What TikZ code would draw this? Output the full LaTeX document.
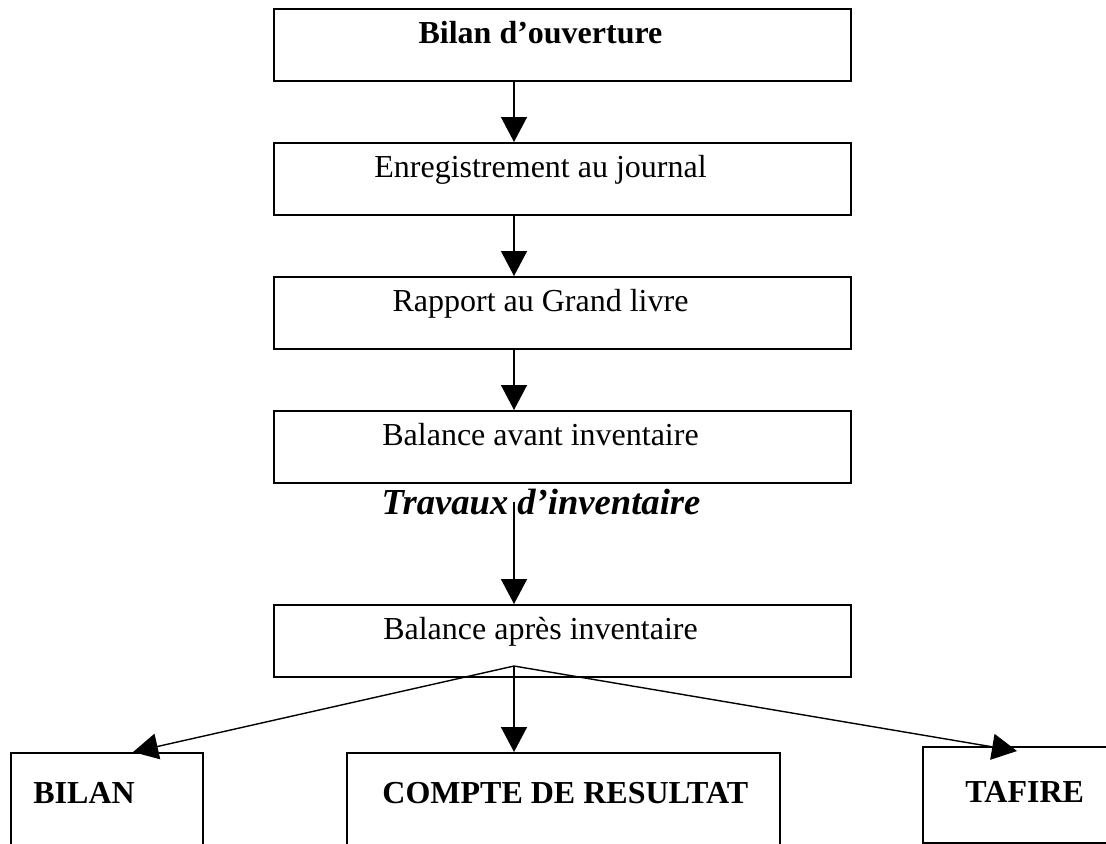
\documentclass[tikz,border=0pt]{standalone}
\usepackage{fontspec}
\setmainfont{Liberation Serif}
\usetikzlibrary{positioning, arrows.meta}

\begin{document}
\begin{tikzpicture}[
     x = 0.5pt, y = -0.5pt,
     node distance = 30pt and 30pt,
       dbox/.style = {rectangle, draw, line width=1pt, minimum width=288.5pt,
                      minimum height=36pt, inner sep=0pt},
       bbox/.style = {rectangle, draw, line width=1pt, inner sep=0pt, anchor=north west},
        txt/.style = {inner sep=0pt, anchor=base, font=\fontsize{16}{19}\selectfont},
       btxt/.style = {txt, font=\fontsize{16}{19}\selectfont\bfseries},
        arr/.style = {line width=0.7pt, -{Triangle[width=13pt,length=12.5pt]}}
                        ]
\useasboundingbox (0,0) rectangle (1106,843);
\clip (0,0) rectangle (1106,843);
\coordinate (axe) at (514,0);
% main column
\node (ouv) [dbox, anchor=north] at (562.5,8) {};
\node (jour)[dbox, below =of ouv] {};
\node (gl)  [dbox, below =of jour] {};
\node (bav) [dbox, below =of gl] {};
\node (bap) [dbox, below =60pt of bav] {};
\node (t-ouv)  [btxt] at ([xshift=-11pt, yshift=-17.5pt]ouv.north) {Bilan d’ouverture};
\node (t-jour) [txt]  at ([xshift=-11pt, yshift=-17.5pt]jour.north) {Enregistrement au journal};
\node (t-gl)   [txt]  at ([xshift=-11pt, yshift=-17.5pt]gl.north) {Rapport au Grand livre};
\node (t-bav)  [txt]  at ([xshift=-11pt, yshift=-17.5pt]bav.north) {Balance avant inventaire};
\node (t-bap)  [txt]  at ([xshift=-11pt, yshift=-17.5pt]bap.north) {Balance après inventaire};
\node (trav)   [txt, font=\fontsize{18.3}{22}\selectfont\bfseries\itshape] at (541,514) {Travaux d’inventaire};
% bottom row
\node (bil) [bbox, minimum width=96pt, minimum height=60pt] at (10,752) {};
\node (cr)  [bbox, minimum width=216.5pt, minimum height=60pt] at (346,752) {};
\node (taf) [bbox, minimum width=100pt, minimum height=48pt] at (922,746) {};
\node (t-bil) [btxt, anchor=base west] at (33,803) {BILAN};
\node (t-cr)  [btxt, anchor=base west] at (382,803) {COMPTE DE RESULTAT};
\node (t-taf) [btxt, anchor=base west] at (965,802) {TAFIRE};
% arrows
\foreach \a/\b in {ouv/jour, jour/gl, gl/bav}
    \draw[arr] (\a.south -| axe) to (\b.north -| axe);
\draw[arr] (trav.center -| axe) to (bap.north -| axe);
\coordinate (fan) at ([yshift=6pt]bap.south -| axe);
\draw[arr] (fan) to ([xshift=61.5pt]bil.north west);
\draw[arr] (fan) to (cr.north -| axe);
\draw[arr] (fan) to ([xshift=47.5pt, yshift=-2.5pt]taf.north west);
\end{tikzpicture}
\end{document}
